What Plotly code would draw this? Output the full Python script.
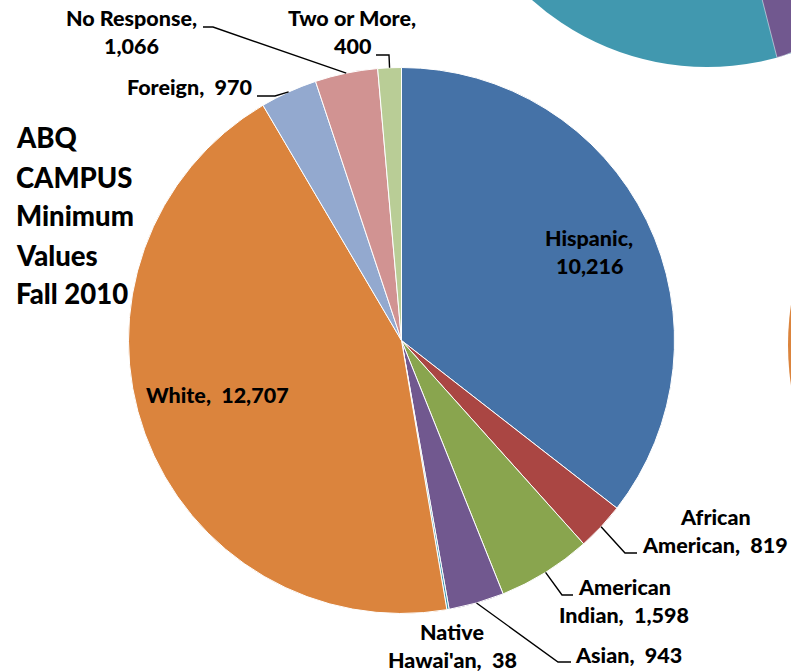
import math
import plotly.graph_objects as go

# ---------------- data ----------------
categories = ["Hispanic", "African American", "American Indian", "Asian",
              "Native Hawai'an", "White", "Foreign", "No Response", "Two or More"]
values = [10216, 819, 1598, 943, 38, 12707, 970, 1066, 400]
colors = ["#4572A7", "#AA4643", "#89A54E", "#71588F", "#4198AF",
          "#DB843D", "#93A9CF", "#D19392", "#B9CD96"]
title_lines = ["ABQ", "CAMPUS", "Minimum", "Values", "Fall 2010"]

# ---------------- layout helpers ----------------
W, H = 791, 672
CX, CY, R = 401.5, 340.5, 273
FONT = "Lato"


def px(x):
    return x / W


def py(y):
    return 1 - y / H


# label placement (pixel centre x, first-line centre y, line-break mode)
label_pos = {
    "Hispanic": (589, 238, "value"),
    "African American": (715, 517, "name"),
    "American Indian": (624, 587, "name"),
    "Asian": (628, 655, None),
    "Native Hawai'an": (452, 632, "name"),
    "White": (218, 395, None),
    "Foreign": (189, 87, None),
    "No Response": (131, 18, "value"),
    "Two or More": (352, 18, "value"),
}
LINE_GAP = 28

# leader line elbows (pixels), from slice edge outward to label
leader_pts = {
    "African American": [(625, 553), (637, 553)],
    "American Indian": [(562, 595), (573, 595)],
    "Asian": [(558, 662), (571, 662)],
    "Foreign": [(275, 96), (257, 96)],
    "No Response": [(213, 27), (203, 27)],
    "Two or More": [(389, 55), (376, 55)],
}

fig = go.Figure(go.Pie(
    labels=categories, values=values, sort=False, direction="clockwise",
    rotation=0, marker=dict(colors=colors, line=dict(color="white", width=1)),
    textinfo="none", showlegend=False, hoverinfo="label+value",
    domain=dict(x=[px(CX - R), px(CX + R)], y=[py(CY + R), py(CY - R)]),
))

annotations = []
shapes = []

# fragments of neighbouring pie charts (cropped)
shapes.append(dict(type="circle", xref="paper", yref="paper", layer="below",
                   x0=px(445), x1=px(969), y0=py(67), y1=py(-457),
                   fillcolor="#4198AF", line=dict(width=0)))
shapes.append(dict(type="path", xref="paper", yref="paper", layer="below",
                   path=(f"M {px(761)},{py(-5)} L {px(777)},{py(57.5)} "
                         f"Q {px(784)},{py(56)} {px(795)},{py(51)} "
                         f"L {px(795)},{py(-5)} Z"),
                   fillcolor="#71588F", line=dict(color="white", width=0.5)))
shapes.append(dict(type="circle", xref="paper", yref="paper", layer="below",
                   x0=px(788), x1=px(1334), y0=py(618), y1=py(72),
                   fillcolor="#DB843D", line=dict(width=0)))

total = sum(values)
cum = 0
for cat, val in zip(categories, values):
    mid = (cum + val / 2) / total * 2 * math.pi
    cum += val
    tip = (CX + R * math.sin(mid), CY - R * math.cos(mid))
    # text
    x, y, mode = label_pos[cat]
    vtxt = f"{val:,}"
    if mode == "value":
        lines = [cat + ",", vtxt]
    elif mode == "name":
        first, rest = cat.split(" ", 1)
        lines = [first, f"{rest},\u00a0 {vtxt}"]
    else:
        lines = [f"{cat},\u00a0 {vtxt}"]
    for i, ln in enumerate(lines):
        annotations.append(dict(
            x=px(x), y=py(y + i * LINE_GAP), xref="paper", yref="paper",
            text=ln, showarrow=False, xanchor="center", yanchor="middle",
            font=dict(family=FONT, size=21.5, color="black", weight=900)))
    # leader line
    if cat in leader_pts:
        pts = [tip] + leader_pts[cat]
        path = "M " + " L ".join(f"{px(a)},{py(b)}" for a, b in pts)
        shapes.append(dict(type="path", xref="paper", yref="paper", path=path,
                           line=dict(color="black", width=1.4)))

title_y = [138, 177, 216, 255, 293]
for t, yy in zip(title_lines, title_y):
    annotations.append(dict(
        x=px(14), y=py(yy), xref="paper", yref="paper", text=t,
        showarrow=False, xanchor="left", yanchor="middle",
        font=dict(family=FONT, size=27.5, color="black", weight=900)))

fig.update_layout(
    width=W, height=H, margin=dict(l=0, r=0, t=0, b=0),
    paper_bgcolor="white", plot_bgcolor="white",
    annotations=annotations, shapes=shapes,
    font=dict(family=FONT),
)

fig.write_html(
    "out.html",
    config={"displayModeBar": False},
    post_script="document.body.style.margin='0';"
                "document.body.style.overflow='hidden';",
)
